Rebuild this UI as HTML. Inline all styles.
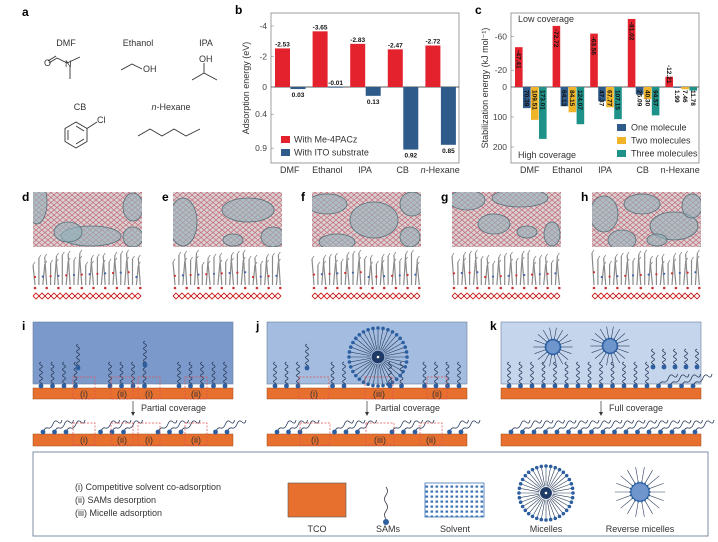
<!DOCTYPE html>
<html><head><meta charset="utf-8">
<style>
html,body{margin:0;padding:0;background:#fff;}
svg{display:block;font-family:"Liberation Sans",sans-serif;}
.lab{font-weight:bold;font-size:12px;}
.t{font-size:9px;fill:#333;}
.tk{font-size:8.5px;fill:#444;}
.vl{font-size:6.5px;font-weight:bold;fill:#111;}
</style></head>
<body>
<svg id="fig" width="718" height="542" viewBox="0 0 718 542" xmlns="http://www.w3.org/2000/svg">
<defs>
<pattern id="lat" width="6" height="5" patternUnits="userSpaceOnUse">
<rect width="6" height="5" fill="#d9d2d4"/>
<path d="M0 0L3 2.5L6 0M0 5L3 2.5L6 5" stroke="#c56b76" stroke-width="0.7" fill="none"/>
</pattern>
<pattern id="solv" width="5" height="5" patternUnits="userSpaceOnUse">
<rect width="5" height="5" fill="#fff"/><rect x="0.5" y="0.5" width="2.6" height="2.2" fill="#3d73b5"/>
</pattern>
</defs>

<g>
<text class="lab" x="22" y="16">a</text>
<text class="t" x="66" y="46" text-anchor="middle">DMF</text>
<text class="t" x="138" y="46" text-anchor="middle">Ethanol</text>
<text class="t" x="206" y="46" text-anchor="middle">IPA</text>
<text class="t" x="80" y="110" text-anchor="middle">CB</text>
<text class="t" x="171" y="110" text-anchor="middle"><tspan font-style="italic">n</tspan>-Hexane</text>
<g stroke="#333" stroke-width="0.9" fill="none">
<path d="M49 63L57 58L67 63L80 57M70 67L70 79"/><path d="M48 61L56 56"/>
<path d="M121 70L132 64L142 69"/>
<path d="M192 80L204 73L217 80M204 73L204 63"/>
<polygon points="76,122 87,128.5 87,141.5 76,148 65,141.5 65,128.5"/>
<path d="M68 130L68 140M76 144L84 139M76 126L84 131M87 128.5L97 122"/>
<path d="M138 136L150 129L162 136L174 129L186 136L200 129"/>
</g>
<g class="t" font-size="8"><text x="44" y="66">O</text><text x="65" y="67">N</text><text x="143" y="72">OH</text><text x="199" y="62">OH</text><text x="97" y="123">Cl</text></g>
</g>

<g id="pb">
<text class="lab" x="235" y="14">b</text>
</g>
<g id="pc">
<text class="lab" x="475" y="14">c</text>
</g>

<g id="sims"></g>
<g id="schem"></g>

<g>
<rect x="33" y="452" width="675" height="84" fill="#fff" stroke="#7d8ea3" stroke-width="1"/>
<text class="t" x="75" y="490">(i)  Competitive solvent co-adsorption</text>
<text class="t" x="75" y="503">(ii)  SAMs desorption</text>
<text class="t" x="75" y="516">(iii) Micelle adsorption</text>
<rect x="288" y="483" width="58" height="34" fill="#e8702f" stroke="#555" stroke-width="0.6"/>
<text class="t" x="317" y="532" text-anchor="middle" font-size="8">TCO</text>
<path d="M386 487q3 4 0 8t0 8q3 4 0 8t0 8" stroke="#334" stroke-width="0.8" fill="none"/>
<circle cx="386" cy="522" r="3" fill="#2d5fa0"/>
<text class="t" x="388" y="532" text-anchor="middle" font-size="8">SAMs</text>
<rect x="425" y="483" width="59" height="34" fill="url(#solv)" stroke="#3d73b5" stroke-width="0.8"/>
<text class="t" x="455" y="532" text-anchor="middle" font-size="8">Solvent</text>
<g id="legmic"></g>
<text class="t" x="546" y="532" text-anchor="middle" font-size="8">Micelles</text>
<g id="legrev"></g>
<text class="t" x="640" y="532" text-anchor="middle" font-size="8">Reverse micelles</text>
</g>
</svg>
<script>
const NS="http://www.w3.org/2000/svg";
function el(p,tag,a,txt){const e=document.createElementNS(NS,tag);for(const k in a)e.setAttribute(k,a[k]);if(txt!==undefined)e.textContent=txt;p.appendChild(e);return e;}

const categories=["DMF","Ethanol","IPA","CB","n-Hexane"];
const bMe4pacz=[-2.53,-3.65,-2.83,-2.47,-2.72];
const bIto=[0.03,-0.01,0.13,0.92,0.85];
const bTicks=[-4,-2,0,0.4,0.9];
const bTickLabels=["-4","-2","0","0.4","0.9"];
const cMe4pacz=[-47.41,-72.72,-63.56,-81.02,-12.21];
const cOne=[70.39,64.13,47.37,25.09,1.99];
const cTwo=[109.51,84.15,67.77,40.3,7.46];
const cThree=[173.01,124.07,107.15,94.57,11.78];
const cTicks=[-60,-20,0,100,200];
const cTickLabels=["-60","-20","0","100","200"];

const RED="#e3222d",BLUE="#2e5b8a",YEL="#f0b429",TEAL="#1e9189";
function fmt(v){return v.toFixed(2);}

(function(){
const g=document.getElementById('pb');
const L=271,R=459,T=13,B=163,Y0=87;
function yB(v){return v<0?Y0+v*15.25:Y0+v*68;}
const gw=(R-L)/categories.length;
function xB(i){return L+i*gw;}
el(g,'rect',{x:L,y:T,width:R-L,height:B-T,fill:'none',stroke:'#888','stroke-width':0.8});
el(g,'line',{x1:L,x2:R,y1:Y0,y2:Y0,stroke:'#222','stroke-width':0.8});
bTicks.forEach((v,i)=>{const t=el(g,'text',{class:'tk',x:L-4,y:yB(v)+3,'text-anchor':'end'},bTickLabels[i]);

el(g,'line',{x1:L,x2:L+3,y1:yB(v),y2:yB(v),stroke:'#888','stroke-width':0.6});});
const yt=el(g,'text',{class:'t',transform:'translate(249,88) rotate(-90)','text-anchor':'middle'},'Adsorption energy (eV)');

categories.forEach((c,i)=>{
 const x=xB(i);
 const r=bMe4pacz[i],y1=yB(r);
 const rb=el(g,'rect',{x:x+4,y:Math.min(y1,Y0),width:15,height:Math.abs(Y0-y1),fill:RED});
 
 el(g,'text',{class:'vl',x:x+11.5,y:y1-2,'text-anchor':'middle'},fmt(r));
 const b=bIto[i],y2=yB(b);
 const bb=el(g,'rect',{x:x+19.5,y:Math.min(y2,Y0),width:15,height:Math.max(0.8,Math.abs(y2-Y0)),fill:BLUE});
 
 el(g,'text',{class:'vl',x:x+27,y:b>0?y2+8:Y0-2,'text-anchor':'middle'},fmt(b));
 const cl=el(g,'text',{class:'t',x:x+gw/2,y:B+10,'text-anchor':'middle'},'');
 if(c==='n-Hexane'){el(cl,'tspan',{'font-style':'italic'},'n');el(cl,'tspan',{},'-Hexane');}else cl.textContent=c;
 
});
[[RED,'With Me-4PACz',140],[BLUE,'With ITO substrate',153]].forEach(l=>{
 const lg=el(g,'g',{});
 el(lg,'rect',{x:281,y:l[2]-4,width:9,height:7,fill:l[0]});
 el(lg,'text',{class:'t','font-size':'8',x:294,y:l[2]+2.5},l[1]);});
})();

(function(){
const g=document.getElementById('pc');
const L=511,R=699,T=13,B=163,Y0=87;
function yC(v){return v<0?Y0+v*0.84:Y0+v*0.30;}
const gw=(R-L)/categories.length;
function xC(i){return L+i*gw;}
el(g,'rect',{x:L,y:T,width:R-L,height:B-T,fill:'none',stroke:'#888','stroke-width':0.8});
el(g,'line',{x1:L,x2:R,y1:Y0,y2:Y0,stroke:'#222','stroke-width':0.8});
cTicks.forEach((v,i)=>{const t=el(g,'text',{class:'tk',x:L-4,y:yC(v)+3,'text-anchor':'end'},cTickLabels[i]);

el(g,'line',{x1:L,x2:L+3,y1:yC(v),y2:yC(v),stroke:'#888','stroke-width':0.6});});
const yt=el(g,'text',{class:'t',transform:'translate(488,88) rotate(-90)','text-anchor':'middle'},'Stabilization energy (kJ mol⁻¹)');

el(g,'text',{class:'t','font-size':'8',x:518,y:22},'Low coverage');
el(g,'text',{class:'t','font-size':'8',x:518,y:158},'High coverage');
const series=[[cMe4pacz,RED,'me4pacz'],[cOne,BLUE,'one'],[cTwo,YEL,'two'],[cThree,TEAL,'three']];
categories.forEach((c,i)=>{
 const x=xC(i);
 series.forEach((s,k)=>{
  const v=s[0][i],y=yC(v),bx=x+4+k*8;
  const r=el(g,'rect',{x:bx,y:Math.min(y,Y0),width:7.6,height:Math.max(0.8,Math.abs(y-Y0)),fill:s[1]});
  
  const ty=v<0?Math.min(y+3,Y0-22):Y0+3;
  el(g,'text',{class:'vl','font-size':'6',transform:'translate('+(bx+1.5)+','+ty+') rotate(90)'},fmt(v));
 });
 const cl=el(g,'text',{class:'t',x:x+gw/2,y:B+10,'text-anchor':'middle'},c);
 
});
[[BLUE,'One molecule',128],[YEL,'Two molecules',141],[TEAL,'Three molecules',154]].forEach(l=>{
 const lg=el(g,'g',{});
 el(lg,'rect',{x:617,y:l[2]-4,width:9,height:7,fill:l[0]});
 el(lg,'text',{class:'t','font-size':'8',x:631,y:l[2]+2.5},l[1]);});
})();

(function(){
const g=document.getElementById('sims');
const svg=document.getElementById('fig');
const defs=svg.querySelector('defs');
const xs=[33,173,312,452,592],labs=['d','e','f','g','h'];
const blobs=[
 [[4,10,10,22],[58,44,30,10],[100,15,10,14],[35,40,14,10],[100,45,10,10]],
 [[10,30,14,24],[75,18,26,12],[100,45,12,10],[60,48,10,6]],
 [[15,12,20,10],[62,28,24,18],[100,12,12,12],[25,50,18,8],[98,45,10,10]],
 [[15,8,18,10],[68,6,28,9],[42,32,16,10],[100,42,8,12],[75,40,10,6]],
 [[12,22,14,18],[50,12,18,10],[82,34,24,14],[30,48,14,10],[100,14,10,12],[65,48,10,6]]];
xs.forEach((x0,i)=>{
 const cp=el(defs,'clipPath',{id:'cp'+i});el(cp,'rect',{x:x0,y:192,width:109,height:55});
 const p=el(g,'g',{});
 el(p,'text',{class:'lab',x:x0-11,y:201},labs[i]);
 el(p,'rect',{x:x0,y:192,width:109,height:55,fill:'url(#lat)'});
 const bg=el(p,'g',{'clip-path':'url(#cp'+i+')'});
 blobs[i].forEach(b=>el(bg,'ellipse',{cx:x0+b[0],cy:192+b[1],rx:b[2],ry:b[3],fill:'#93b2ba','fill-opacity':0.6,stroke:'#55707a','stroke-width':0.8}));
 for(let k=0;k<28;k++){const sx=x0+2+k*3.9;const h=20+((k*7+i*3)%13);
  el(p,'line',{x1:sx,y1:285,x2:sx+((k%3)-1)*2,y2:285-h,stroke:'#8a8a8a','stroke-width':1.2});
  el(p,'line',{x1:sx+((k%3)-1)*2,y1:285-h,x2:sx+((k%3)-1)*2+2,y2:285-h-3,stroke:'#8a8a8a','stroke-width':0.8});
  if(k%2==0)el(p,'circle',{cx:sx,cy:285-h*0.4,r:1.1,fill:k%4==0?'#c33':'#46a'});
  if(k%3==0)el(p,'circle',{cx:sx,cy:288,r:1.3,fill:'#c33'});}
 let d='M'+x0+' 296';for(let k=0;k<18;k++){d+=' l3 -3 l3 3';}
 el(p,'path',{d:d,stroke:'#c22',fill:'none','stroke-width':0.9});
 let d2='M'+x0+' 296';for(let k=0;k<18;k++){d2+=' l3 3 l3 -3';}
 el(p,'path',{d:d2,stroke:'#c22',fill:'none','stroke-width':0.9});
});
})();

function sam(p,x,y,len){let d='M'+x+' '+y;const n=Math.round(len/6);for(let k=0;k<n;k++)d+=' q3 -1.5 0 -3 q-3 -1.5 0 -3';
 el(p,'path',{d:d,stroke:'#2b3d5c',fill:'none','stroke-width':0.8});el(p,'circle',{cx:x,cy:y,r:2.4,fill:'#2d5fa0'});}
function samFlat(p,x,y){el(p,'path',{d:'M'+x+' '+y+' q2 -5 5 -4 t5 -4 t5 -2 t4 -2',stroke:'#2b3d5c',fill:'none','stroke-width':0.8});el(p,'circle',{cx:x,cy:y,r:2.4,fill:'#2d5fa0'});}
function dashbox(p,x,y,w,h,t){el(p,'rect',{x:x,y:y,width:w,height:h,fill:'none',stroke:'#e05050','stroke-width':0.7,'stroke-dasharray':'2,1.5'});
 if(t)el(p,'text',{class:'t','font-size':'7',x:x+w/2,y:y+h-2,'text-anchor':'middle',fill:'#333'},t);}
function micelle(p,cx,cy,r){for(let a=0;a<360;a+=10){const rad=a*Math.PI/180;
 el(p,'path',{d:'M'+(cx+Math.cos(rad)*r)+' '+(cy+Math.sin(rad)*r)+' L'+(cx+Math.cos(rad)*r*0.25)+' '+(cy+Math.sin(rad)*r*0.25),stroke:'#2b3d5c','stroke-width':0.6});
 el(p,'circle',{cx:cx+Math.cos(rad)*r,cy:cy+Math.sin(rad)*r,r:1.8,fill:'#2d5fa0'});}
 el(p,'circle',{cx:cx,cy:cy,r:r*0.22,fill:'#1e3a66'});el(p,'circle',{cx:cx,cy:cy,r:1.3,fill:'#fff'});}
function revmic(p,cx,cy,r){for(let a=0;a<360;a+=20){const rad=a*Math.PI/180;
 el(p,'path',{d:'M'+(cx+Math.cos(rad)*r)+' '+(cy+Math.sin(rad)*r)+' L'+(cx+Math.cos(rad)*r*2.8)+' '+(cy+Math.sin(rad)*r*2.8),stroke:'#2b3d5c','stroke-width':0.6});
 el(p,'circle',{cx:cx+Math.cos(rad)*r,cy:cy+Math.sin(rad)*r,r:1.5,fill:'#2d5fa0'});}
 el(p,'circle',{cx:cx,cy:cy,r:r,fill:'#6e95cc',stroke:'#2d5fa0','stroke-width':0.8});}
(function(){
const g=document.getElementById('schem');
const panels=[{x:33,l:'i',c:'#7b9acb',cap:'Partial coverage'},{x:267,l:'j',c:'#a3bcdf',cap:'Partial coverage'},{x:501,l:'k',c:'#c4d5ec',cap:'Full coverage'}];
panels.forEach((P,pi)=>{
 const p=el(g,'g',{});
 el(p,'text',{class:'lab',x:P.x-11,y:330},P.l);
 el(p,'rect',{x:P.x,y:322,width:200,height:62,fill:P.c,stroke:'#6b7f9c','stroke-width':0.6});
 el(p,'rect',{x:P.x,y:388,width:200,height:11,fill:'#e8702f',stroke:'#a04a1c','stroke-width':0.5});
 el(p,'rect',{x:P.x,y:434,width:200,height:12,fill:'#e8702f',stroke:'#a04a1c','stroke-width':0.5});
 const ax=P.x+100;
 el(p,'line',{x1:ax,y1:401,x2:ax,y2:414,stroke:'#333','stroke-width':0.7});
 el(p,'path',{d:'M'+(ax-2)+' 412L'+ax+' 416L'+(ax+2)+' 412Z',fill:'#333'});
 el(p,'text',{class:'t','font-size':'8.5',x:ax+8,y:411},P.cap);
 for(let k=0;k<17;k++){const sx=P.x+8+k*11.5;
  if(pi===2){ if(k<13)sam(p,sx,386,24); else samFlat(p,sx,386);}
  else if(pi===0){ if([4,5,10,11].indexOf(k)<0)sam(p,sx,386,24);}
  else { if([3,4,7,8,9,12].indexOf(k)<0)sam(p,sx,386,24);}
 }
 if(pi===0){dashbox(p,P.x+40,377,22,22,'(i)');dashbox(p,P.x+78,377,22,22,'(ii)');dashbox(p,P.x+105,377,22,22,'(i)');dashbox(p,P.x+152,377,22,22,'(ii)');
  sam(p,P.x+45,368,24);sam(p,P.x+112,365,24);}
 if(pi===1){micelle(p,P.x+111,357,29);dashbox(p,P.x+32,377,30,22,'(i)');dashbox(p,P.x+98,377,28,22,'(iii)');dashbox(p,P.x+160,377,20,22,'(ii)');
  sam(p,P.x+40,368,24);}
 if(pi===2){revmic(p,P.x+52,347,7);revmic(p,P.x+109,346,7);
  for(let k=0;k<5;k++)sam(p,P.x+152+k*11,367,18);}
 for(let k=0;k<17;k++){const sx=P.x+10+k*11.5;
  if(pi===2 || [3,4,8,9,13,14].indexOf(k)<0) samFlat(p,sx,432);}
 if(pi===0){dashbox(p,P.x+40,423,22,22,'(i)');dashbox(p,P.x+78,423,22,22,'(ii)');dashbox(p,P.x+105,423,22,22,'(i)');dashbox(p,P.x+152,423,22,22,'(ii)');}
 if(pi===1){dashbox(p,P.x+33,423,30,22,'(i)');dashbox(p,P.x+99,423,28,22,'(iii)');dashbox(p,P.x+153,423,22,22,'(ii)');}
});
micelle(document.getElementById('legmic'),546,493,27);
revmic(document.getElementById('legrev'),640,492,9);
})();
</script>
</body></html>
